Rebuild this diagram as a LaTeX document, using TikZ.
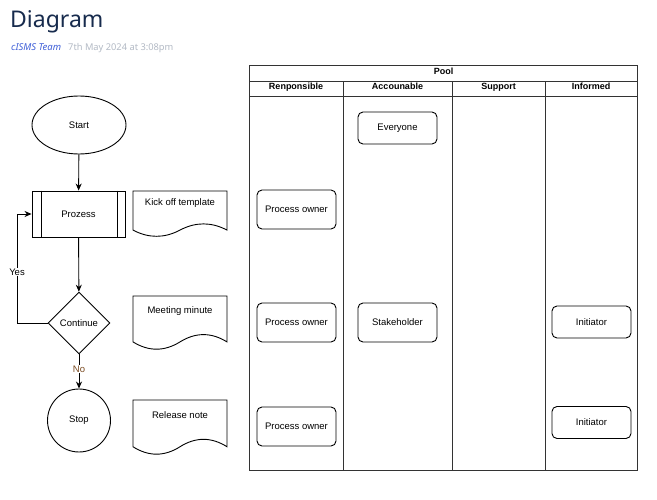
\documentclass[tikz,border=0pt]{standalone}
\usepackage{fontspec}
\setmainfont{Liberation Sans}
\newfontfamily\titlefont{Noto Sans}
\usetikzlibrary{arrows.meta,shapes.geometric,calc}
\definecolor{titlecol}{HTML}{172B4D}
\definecolor{authorcol}{HTML}{3F5FD8}
\definecolor{datecol}{HTML}{B3BAC5}
\definecolor{poolcol}{HTML}{333333}
\definecolor{nocol}{HTML}{7A4A20}
\newcommand{\mydocpath}[4]{%
  \pgfmathsetmacro\mydy{0.3*#4}%
  \draw[docline] (#1,#2) -- (#1+#3,#2) -- (#1+#3,#2+#4-0.5*\mydy)
    .. controls (#1+5*#3/6,#2+#4-1.1*\mydy) and (#1+2*#3/3,#2+#4-1.1*\mydy) .. (#1+#3/2,#2+#4-0.5*\mydy)
    .. controls (#1+#3/3,#2+#4+0.1*\mydy) and (#1+#3/6,#2+#4+0.1*\mydy) .. (#1,#2+#4-0.5*\mydy) -- cycle;}
\begin{document}
\begin{tikzpicture}[x=1pt,y=-1pt,
  txt/.style={font=\fontsize{9.5}{11}\selectfont, inner sep=0pt},
  hdr/.style={font=\fontsize{9}{11}\selectfont\bfseries, inner sep=0pt, anchor=base},
  role/.style={draw=black, line width=0.9pt, rounded corners=5pt, minimum width=79pt, font=\fontsize{9.5}{11}\selectfont, inner sep=0pt},
  docline/.style={draw=black, line width=0.9pt},
  flow/.style={draw=black, line width=0.9pt, font=\fontsize{9.5}{11}\selectfont, inner sep=0pt},
  conn/.style={draw=black, line width=0.9pt, -{Stealth[length=7pt,width=6pt]}},
  pool/.style={draw=poolcol, line width=1pt}
]
\useasboundingbox (0,0) rectangle (657,500);
\fill[white] (0,0) rectangle (657,500);

% header texts
\node[anchor=base west, inner sep=0pt, text=titlecol, font=\titlefont\fontsize{23}{27}\selectfont] (title) at (10,27.5) {Diagram};
\node[anchor=base west, inner sep=0pt, text=authorcol, font=\titlefont\itshape\fontsize{9.5}{11}\selectfont] (author) at (11,50.5) {cISMS Team};
\node[anchor=base west, inner sep=0pt, text=datecol, font=\titlefont\fontsize{9.3}{11}\selectfont] (date) at (68,50.5) {7th May 2024 at 3:08pm};

% pool
\draw[pool] (249.5,66) rectangle (637.5,470);
\draw[pool] (249.5,82) -- (637.5,82);
\draw[pool] (249.5,97) -- (637.5,97);
\draw[pool] (343,82) -- (343,470);
\draw[pool] (452,82) -- (452,470);
\draw[pool] (545,82) -- (545,470);
\node[hdr] (poolt) at (443.5,74.5) {Pool};
\node[hdr] (h1) at (296,90) {Renponsible};
\node[hdr] (h2) at (397.5,90) {Accounable};
\node[hdr] (h3) at (498.5,90) {Support};
\node[hdr] (h4) at (591,90) {Informed};

% role boxes
\node[role, minimum height=32pt] (everyone) at (397.5,128) {Everyone};
\node[role, minimum height=39pt] (po1) at (296.5,209.5) {Process owner};
\node[role, minimum height=39pt] (po2) at (296.5,322.5) {Process owner};
\node[role, minimum height=39pt] (stake) at (397.5,322.5) {Stakeholder};
\node[role, minimum height=32pt] (init1) at (591.5,322) {Initiator};
\node[role, minimum height=39pt] (po3) at (296.5,426.5) {Process owner};
\node[role, minimum height=32pt] (init2) at (591.5,422.5) {Initiator};

% flowchart
\node[flow, ellipse, minimum width=94pt, minimum height=58pt] (start) at (79,125) {Start};
\node[flow, rectangle, minimum width=93pt, minimum height=46pt] (proc) at (78.5,214) {Prozess};
\draw[black, line width=0.9pt] ($(proc.north west)+(10,0)$) -- ($(proc.south west)+(10,0)$);
\draw[black, line width=0.9pt] ($(proc.north east)+(-8,0)$) -- ($(proc.south east)+(-8,0)$);
\node[flow, diamond, minimum width=62pt, minimum height=62pt, aspect=1] (cont) at (79,323) {Continue};
\node[flow, circle, minimum size=63pt] (stop) at (79,420.5) {Stop};

\draw[conn] (start) -- (proc);
\draw[conn] (proc) -- (cont);
\draw[conn] (cont.south) -- (stop.north);
\coordinate (yb) at (17,323);
\coordinate (yt) at (17,214);
\draw[conn] (cont.west) -- (yb) -- (yt) -- (proc.west);
\node[txt, fill=white, inner sep=1pt] (yes) at (17,272) {Yes};
\node[txt, fill=white, inner sep=1pt, text=nocol] (no) at (79,369) {No};

% documents
\mydocpath{133}{191}{94}{46}
\node[txt] (kick) at (180,203) {Kick off template};
\mydocpath{133}{296}{94}{54}
\node[txt] (meet) at (180,311) {Meeting minute};
\mydocpath{133}{400}{94}{55}
\node[txt] (rel) at (180,415) {Release note};
\end{tikzpicture}
\end{document}
